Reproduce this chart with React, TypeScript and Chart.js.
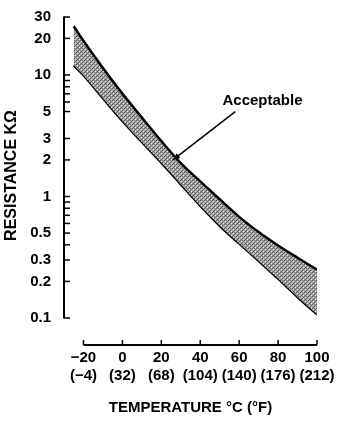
import React, { useEffect, useRef } from 'react';
import { Chart, registerables } from 'chart.js';

Chart.register(...registerables);

// Temperature (°C) sample points along the band
const temps = [-25, -20, -10, 0, 10, 20, 30, 40, 50, 60, 70, 80, 90, 100];
// Upper limit resistance (kΩ)
const upperK = [25.2, 19.1, 11.4, 7.02, 4.47, 2.86, 1.88, 1.33, 0.95, 0.68, 0.51, 0.395, 0.313, 0.25];
// Lower limit resistance (kΩ)
const lowerK = [12.0, 9.96, 6.44, 4.19, 2.81, 1.9, 1.26, 0.84, 0.574, 0.411, 0.295, 0.211, 0.149, 0.107];

const xTicksC = [-20, 0, 20, 40, 60, 80, 100];
const xTickLabelsC = ['−20', '0', '20', '40', '60', '80', '100'];
const xTickLabelsF = ['(−4)', '(32)', '(68)', '(104)', '(140)', '(176)', '(212)'];

const yTickValues = [30, 20, 10, 9, 8, 7, 6, 5, 3, 2, 1, 0.9, 0.8, 0.7, 0.6, 0.5, 0.4, 0.3, 0.2, 0.1];
const yTickLabels = [30, 20, 10, 5, 3, 2, 1, 0.5, 0.3, 0.2, 0.1];

const xMin = -30;
const xMax = 100;
const yMin = 0.1;
const yMax = 30;

const annotText = 'Acceptable';
const annotTextAt = [72, 6.1];
const annotFrom = [58, 5.0];
const annotTip = [26, 2.0];

const yTitle = 'RESISTANCE KΩ';
const xTitle = 'TEMPERATURE °C (°F)';

const FONT = '"Liberation Sans", Arial, Helvetica, sans-serif';

function makePattern(): CanvasPattern | string {
  const c = document.createElement('canvas');
  c.width = 4;
  c.height = 4;
  const g = c.getContext('2d');
  if (!g) return '#999';
  g.fillStyle = '#a4a4a4';
  g.fillRect(0, 0, 4, 4);
  g.fillStyle = '#555555';
  g.fillRect(0, 0, 1, 1);
  g.fillRect(2, 2, 1, 1);
  g.fillRect(1, 3, 1, 1);
  g.fillStyle = '#777777';
  g.fillRect(3, 1, 1, 1);
  g.fillRect(2, 0, 1, 1);
  g.fillStyle = '#e4e4e4';
  g.fillRect(1, 1, 1, 1);
  g.fillRect(3, 3, 1, 1);
  const p = g.createPattern(c, 'repeat');
  return p || '#999';
}

const axesPlugin = {
  id: 'axesPlugin',
  afterDraw(chart: any) {
    const ctx = chart.ctx;
    const xs = chart.scales.x;
    const ys = chart.scales.y;
    const { left, top, bottom } = chart.chartArea;
    ctx.save();
    ctx.strokeStyle = '#000';
    ctx.fillStyle = '#000';

    // y axis line
    ctx.lineWidth = 2;
    ctx.beginPath();
    ctx.moveTo(left, ys.getPixelForValue(yMax) - 0.5);
    ctx.lineTo(left, ys.getPixelForValue(yMin) + 0.5);
    ctx.stroke();
    // y ticks (pointing inward)
    ctx.lineWidth = 1.5;
    yTickValues.forEach((v) => {
      const py = ys.getPixelForValue(v);
      ctx.beginPath();
      ctx.moveTo(left, py);
      ctx.lineTo(left + 6, py);
      ctx.stroke();
    });

    // x axis line (offset below plot)
    const axY = bottom + 27;
    ctx.lineWidth = 2;
    ctx.beginPath();
    ctx.moveTo(xs.getPixelForValue(xTicksC[0]), axY);
    ctx.lineTo(xs.getPixelForValue(xTicksC[xTicksC.length - 1]), axY);
    ctx.stroke();
    ctx.lineWidth = 1.5;
    xTicksC.forEach((v) => {
      const px = xs.getPixelForValue(v);
      ctx.beginPath();
      ctx.moveTo(px, axY);
      ctx.lineTo(px, axY - 5);
      ctx.stroke();
    });

    // annotation
    const tx = xs.getPixelForValue(annotTextAt[0]);
    const ty = ys.getPixelForValue(annotTextAt[1]);
    ctx.font = `bold 15px ${FONT}`;
    ctx.textAlign = 'center';
    ctx.textBaseline = 'middle';
    ctx.fillText(annotText, tx, ty);
    const fx = xs.getPixelForValue(annotFrom[0]);
    const fy = ys.getPixelForValue(annotFrom[1]);
    const ax = xs.getPixelForValue(annotTip[0]);
    const ay = ys.getPixelForValue(annotTip[1]);
    ctx.lineWidth = 1.5;
    ctx.beginPath();
    ctx.moveTo(fx, fy);
    ctx.lineTo(ax, ay);
    ctx.stroke();
    const ang = Math.atan2(ay - fy, ax - fx);
    const hl = 7;
    const hw = 3;
    ctx.beginPath();
    ctx.moveTo(ax, ay);
    ctx.lineTo(ax - hl * Math.cos(ang) + hw * Math.sin(ang), ay - hl * Math.sin(ang) - hw * Math.cos(ang));
    ctx.lineTo(ax - hl * Math.cos(ang) - hw * Math.sin(ang), ay - hl * Math.sin(ang) + hw * Math.cos(ang));
    ctx.closePath();
    ctx.fill();

    // y title
    ctx.save();
    ctx.translate(12, (top + bottom) / 2 + 8);
    ctx.rotate(-Math.PI / 2);
    ctx.font = `bold 16px ${FONT}`;
    ctx.textAlign = 'center';
    ctx.textBaseline = 'middle';
    ctx.fillText(yTitle, 0, 0);
    ctx.restore();

    ctx.restore();
  },
};

export default function App() {
  const ref = useRef<HTMLCanvasElement | null>(null);

  useEffect(() => {
    if (!ref.current) return;
    const pattern = makePattern();
    const chart = new Chart(ref.current, {
      type: 'line',
      data: {
        datasets: [
          {
            label: 'Upper',
            data: temps.map((t, i) => ({ x: t, y: upperK[i] })),
            borderColor: '#000',
            borderWidth: 2.5,
            pointRadius: 0,
            cubicInterpolationMode: 'monotone',
            fill: '+1',
            backgroundColor: pattern as any,
          },
          {
            label: 'Lower',
            data: temps.map((t, i) => ({ x: t, y: lowerK[i] })),
            borderColor: '#000',
            borderWidth: 2.5,
            pointRadius: 0,
            cubicInterpolationMode: 'monotone',
            fill: false,
          },
        ],
      },
      options: {
        responsive: false,
        animation: false,
        events: [],
        layout: { padding: { top: 17, right: 34, bottom: 12, left: 0 } },
        plugins: {
          legend: { display: false },
          tooltip: { enabled: false },
        },
        scales: {
          x: {
            type: 'linear',
            min: xMin,
            max: xMax,
            grid: { display: false, drawTicks: false },
            border: { display: false },
            afterBuildTicks: (s: any) => {
              s.ticks = xTicksC.map((v) => ({ value: v }));
            },
            afterFit: (s: any) => {
              s.height = 99;
              s.paddingLeft = 0;
              s.paddingRight = 0;
            },
            ticks: {
              autoSkip: false,
              maxRotation: 0,
              minRotation: 0,
              padding: 31,
              color: '#000',
              font: { family: FONT, size: 15, weight: 'bold', lineHeight: 1.2 },
              callback: (_v: any, i: number) => [xTickLabelsC[i], xTickLabelsF[i]],
            },
            title: {
              display: true,
              text: xTitle,
              color: '#000',
              font: { family: FONT, size: 15, weight: 'bold', lineHeight: 1.2 },
              padding: { top: 14, bottom: 0 },
            },
          },
          y: {
            type: 'logarithmic',
            min: yMin,
            max: yMax,
            position: 'left',
            grid: { display: false, drawTicks: false },
            border: { display: false },
            afterFit: (s: any) => {
              s.width = 64;
              s.paddingTop = 0;
              s.paddingBottom = 0;
            },
            afterBuildTicks: (s: any) => {
              s.ticks = yTickValues.map((v) => ({ value: v }));
            },
            ticks: {
              autoSkip: false,
              padding: 13,
              color: '#000',
              font: { family: FONT, size: 15, weight: 'bold' },
              callback: (v: any) => (yTickLabels.includes(Number(v)) ? String(v) : ''),
            },
          },
        },
      } as any,
      plugins: [axesPlugin],
    });
    return () => chart.destroy();
  }, []);

  return (
    <canvas
      ref={ref}
      width={351}
      height={429}
      style={{ position: 'fixed', left: 0, top: 0, width: 351, height: 429 }}
    />
  );
}
